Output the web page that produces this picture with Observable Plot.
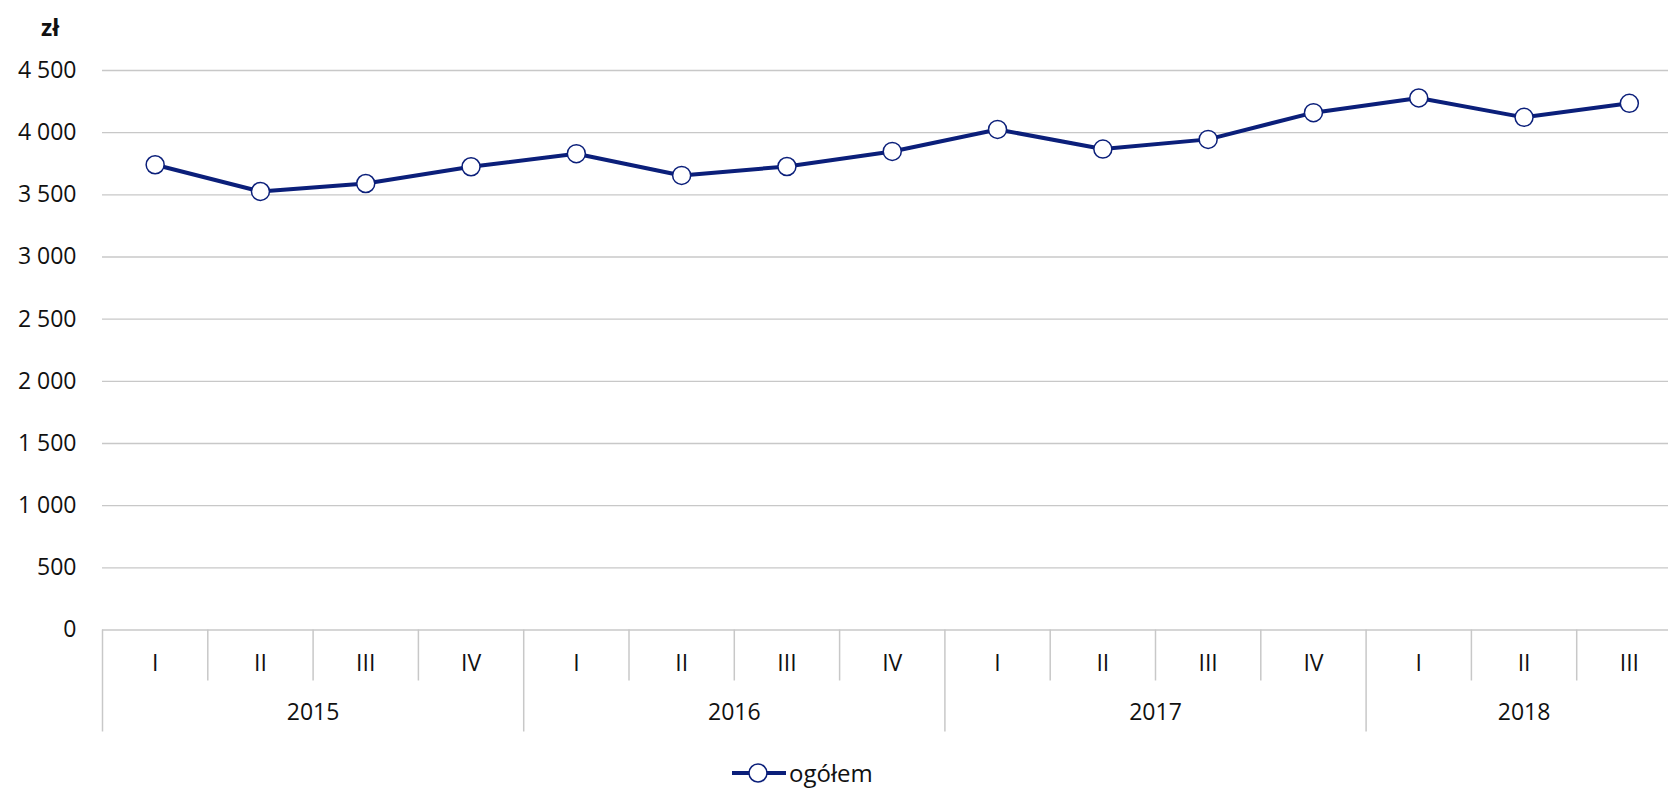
<!DOCTYPE html>
<html><head><meta charset="utf-8">
<script src="https://cdn.jsdelivr.net/npm/d3@7"></script>
<script src="https://cdn.jsdelivr.net/npm/@observablehq/plot@0.6"></script>
<style>
body{margin:0;background:#fff;font-family:"Open Sans",sans-serif;color:#111;}
#wrap{position:relative;width:1668px;height:788px;overflow:hidden;}
#unit{position:absolute;left:41px;top:11px;font-weight:bold;font-size:23px;}
#legend{position:absolute;left:732px;top:758px;height:29px;display:flex;align-items:center;font-size:24px;line-height:29px;}
#legend svg{margin-right:3px;}
</style></head><body>
<div id="wrap"><div id="chart"></div><div id="unit">zł</div>
<div id="legend"><svg width="54" height="24"><line x1="0" y1="12" x2="54" y2="12" stroke="#0b1f7a" stroke-width="4"/><circle cx="26" cy="12" r="9" fill="#fff" stroke="#0b1f7a" stroke-width="1.5"/></svg><span>ogółem</span></div>
</div>
<script>
const years = ["2015", "2016", "2017", "2018"];
const quarterYear = ["2015","2015","2015","2015","2016","2016","2016","2016","2017","2017","2017","2017","2018","2018","2018"];
const quarters = ["I","II","III","IV","I","II","III","IV","I","II","III","IV","I","II","III"];
const values = [3742, 3527, 3591, 3726, 3831, 3656, 3728, 3849, 4026, 3868, 3946, 4161, 4279, 4123, 4236];
const yTicks = [0, 500, 1000, 1500, 2000, 2500, 3000, 3500, 4000, 4500];

const navy = "#0b1f7a";
const grid = "#c8c8c8";
const data = values.map((v, i) => ({i, v, q: quarters[i], year: quarterYear[i]}));

// band boundaries
const bounds = d3.range(quarters.length + 1).map(k => k - 0.5);
const yearBounds = bounds.filter((b, k) => k === 0 || k === quarters.length || quarterYear[k] !== quarterYear[k - 1]);
const quarterBounds = bounds.filter(b => !yearBounds.includes(b));
const yearCenters = years.map(y => d3.mean(data.filter(d => d.year === y), d => d.i));
const yearAt = new Map(yearCenters.map((c, k) => [c, years[k]]));

const fmt = d3.formatLocale({decimal: ",", thousands: " ", grouping: [3], currency: ["", " zł"]}).format(",d");

const W = 1668, H = 752;
const chart = Plot.plot({
  width: W, height: H,
  marginLeft: 102, marginRight: 0, marginTop: 70, marginBottom: H - 629.5,
  style: {fontFamily: "'Open Sans', sans-serif", fontSize: "23px", color: "#111", background: "#fff"},
  x: {type: "linear", domain: [-0.5, quarters.length - 0.5], range: [102, 102 + 105.3 * quarters.length], axis: null},
  y: {domain: [0, 4500], axis: null},
  marks: [
    Plot.gridY({ticks: yTicks, stroke: grid, strokeOpacity: 1, strokeWidth: 1.3}),
    Plot.axisY({ticks: yTicks, tickSize: 0, tickPadding: 26, tickFormat: fmt, fontSize: 23, label: null}),
    Plot.axisX({ticks: quarterBounds, tickSize: 51, tickFormat: () => "", stroke: grid, strokeWidth: 1.5, label: null}),
    Plot.axisX({ticks: yearBounds, tickSize: 102, tickFormat: () => "", stroke: grid, strokeWidth: 1.5, label: null}),
    Plot.axisX({ticks: d3.range(quarters.length), tickSize: 0, tickPadding: 25, tickFormat: i => quarters[i], fontSize: 23, label: null}),
    Plot.axisX({ticks: yearCenters, tickSize: 0, tickPadding: 74, tickFormat: c => yearAt.get(c), fontSize: 23, label: null}),
    Plot.line(data, {x: "i", y: "v", stroke: navy, strokeWidth: 4}),
    Plot.dot(data, {x: "i", y: "v", r: 9, fill: "#fff", stroke: navy, strokeWidth: 1.5})
  ]
});
document.getElementById("chart").appendChild(chart);
</script>
</body></html>
